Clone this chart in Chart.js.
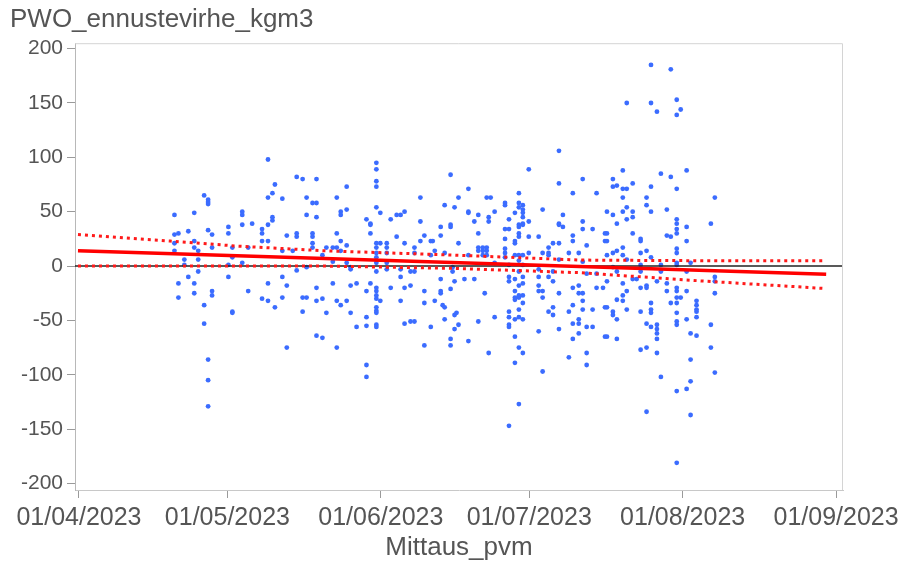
<!DOCTYPE html>
<html>
<head>
<meta charset="utf-8">
<script src="https://cdn.jsdelivr.net/npm/chart.js@4.4.0/dist/chart.umd.min.js"></script>
<style>
html,body{margin:0;padding:0;background:#fff;}
</style>
</head>
<body>
<canvas id="grafico" width="898" height="563"></canvas>
<script>
// x = days since 01/04/2023, y = PWO_ennustevirhe_kgm3
const obsLateApr = [[19.3,47],[19.3,29],[20.1,30],[19.3,21],[19.3,14],[20.1,-16],[20.1,-29],[21.3,6],[21.3,1],[22.1,32],[22.1,-10],[23.3,49],[23.3,23],[23.3,17],[23.3,-16],[23.3,-25],[24.1,14],[24.1,6],[24.1,-5],[25.3,65],[26.1,61],[26.1,59],[26.1,57],[26.1,33],[26.9,29],[26.9,17],[26.9,-23],[26.9,-27],[25.3,-36],[25.3,-53],[26.1,-86],[26.1,-105],[26.1,-129],[30.2,36],[30.2,30],[30.2,1],[30.2,-10],[31.0,17],[31.0,8],[31.0,-42],[31.0,-43],[33.0,50],[33.0,47],[33.0,38],[33.0,3],[34.2,-23],[34.2,17],[35.0,39],[37.0,34],[37.0,30],[37.0,23],[37.0,-30],[38.2,98],[38.2,63],[38.2,38],[38.2,23],[38.2,-16],[38.2,-32],[39.1,67],[39.1,45],[39.1,42],[39.6,75],[39.6,-38]];

const obsMay = [[41.1,62],[42.0,28],[41.1,14],[41.1,-10],[42.0,-18],[41.1,-29],[42.0,-75],[43.2,14],[44.0,82],[45.2,80],[44.0,30],[44.0,27],[44.0,-4],[45.2,-29],[46.0,-29],[45.2,-42],[46.0,63],[46.0,47],[47.2,58],[48.0,58],[48.0,80],[48.0,45],[47.2,30],[47.2,27],[47.2,21],[47.2,17],[46.0,-1],[48.0,-20],[48.0,-32],[49.2,-30],[50.0,-43],[48.0,-64],[49.2,-66],[49.2,10],[50.0,17],[51.3,17],[51.3,4],[51.3,-16],[52.1,63],[52.1,30],[52.1,17],[52.1,-32],[52.1,-75],[52.9,50],[52.9,47],[52.9,23],[52.9,14],[52.9,-36],[54.1,73],[54.1,52],[54.1,19],[54.1,3],[54.1,-32],[54.9,-1],[54.9,-3],[54.9,-18],[54.9,-43],[56.1,-16],[56.1,-56],[58.1,43],[58.1,-23],[58.1,-47],[58.1,-55],[58.1,-91],[58.1,-102],[58.9,39],[58.9,38],[58.9,30],[58.9,-16],[60.1,95],[60.1,89],[60.1,78],[60.1,73],[60.1,54],[60.1,21],[60.1,17],[60.1,12],[60.1,8],[60.1,3],[60.1,-5],[60.1,-20],[60.1,-23],[60.1,-27],[60.1,-30],[60.1,-38],[60.1,-41],[60.1,-43],[60.1,-54],[60.1,-56],[60.9,49],[60.9,21],[60.9,-32]];

const obsJune = [[62.2,21],[62.2,17],[62.2,12],[62.2,3],[62.2,-3],[63.0,43],[63.0,-20],[64.2,47],[65.0,47],[65.8,50],[64.2,27],[65.8,21],[65.0,-3],[65.0,-10],[65.0,-32],[65.8,-20],[65.8,-53],[67.0,-18],[67.0,-51],[67.8,-51],[67.0,-5],[67.8,-5],[67.8,17],[67.8,12],[69.0,63],[69.0,41],[69.0,23],[69.8,28],[69.8,-23],[69.8,-34],[69.8,-73],[71.1,23],[71.5,23],[71.1,-56],[71.1,10],[71.9,14],[71.9,-32],[73.1,36],[73.1,28],[73.1,-12],[73.1,-23],[73.1,-25],[73.5,-36],[73.9,-38],[73.9,56],[73.9,12],[73.9,-49],[75.1,84],[75.1,38],[75.1,36],[75.1,-21],[75.1,-67],[75.1,-73],[75.9,54],[75.9,-14],[75.9,-45],[76.3,-43],[76.7,63],[76.7,21],[76.7,-54],[75.9,-58],[75.5,-1],[75.5,-5],[77.9,-12],[78.7,71],[78.7,50],[78.7,49],[78.7,10],[78.7,-69],[79.9,41],[79.9,-12],[80.7,47],[80.7,30],[80.7,-51],[80.7,17],[80.7,14],[81.6,17],[81.6,14],[81.6,10],[82.4,17],[82.4,14],[82.4,10],[82.0,-25],[82.8,45],[82.8,41],[82.8,-80],[82.4,63],[83.2,63],[84.0,-47],[84.0,50]];

const obsJuly = [[84.0,3],[86.1,58],[86.1,56],[86.1,34],[86.1,25],[86.1,16],[86.1,12],[86.1,8],[86.9,43],[86.9,34],[86.9,1],[86.9,-10],[86.9,-14],[86.9,-42],[86.9,-47],[86.9,-54],[86.9,-56],[86.9,-147],[88.1,49],[88.1,23],[88.1,21],[88.1,10],[88.1,-12],[88.1,-23],[88.1,-29],[88.1,-31],[88.1,-49],[88.1,-65],[88.1,-89],[88.9,67],[88.9,58],[88.9,54],[88.9,38],[88.9,36],[88.9,30],[88.9,27],[88.9,10],[88.9,5],[88.9,-5],[88.9,-18],[88.9,-27],[88.9,-29],[88.9,-40],[88.9,-47],[88.9,-75],[88.9,-127],[89.7,56],[89.7,52],[89.7,49],[89.7,45],[89.7,39],[89.7,38],[89.7,10],[89.7,1],[89.7,-10],[89.7,-16],[89.7,-27],[89.7,-34],[89.7,-49],[89.7,-80],[90.9,89],[90.9,41],[90.9,27],[90.9,12],[92.9,27],[92.9,-3],[92.9,-10],[92.9,-18],[92.9,-23],[92.9,-60],[93.7,52],[93.7,12],[93.7,-23],[93.7,-29],[93.7,-97],[94.9,17],[94.9,12],[94.9,10],[94.9,-10],[94.9,-42],[95.8,21],[95.8,-5],[95.8,-14],[95.8,-38],[95.8,-45],[97.0,106],[97.0,76],[97.0,39],[97.0,38],[97.0,21],[97.0,6],[97.0,-25],[97.0,-58],[97.8,47],[97.8,36],[99.0,12],[99.0,-42],[99.0,-84],[99.8,67],[99.8,28],[99.8,23],[99.8,-20],[99.8,-36],[99.8,-53],[99.8,-67],[101.0,12],[101.0,-18],[101.0,-25],[101.0,-49],[101.0,-53],[101.0,-62],[101.8,80],[101.8,41],[101.8,34],[101.8,4],[101.8,-25],[101.8,-32],[101.8,-40],[102.6,19],[102.6,-7],[102.6,-56],[102.6,-80],[102.6,-91],[103.8,34],[103.8,-40],[103.8,-56],[104.6,67],[104.6,-7],[104.6,-20],[105.9,-20],[106.3,30],[106.3,23],[106.3,-38],[106.3,-65]];

const obsAugust = [[106.7,50],[106.7,30],[106.7,23],[106.7,10],[106.7,-14],[106.7,-38],[106.7,-65],[107.9,80],[107.9,73],[107.9,47],[107.9,12],[107.9,-1],[107.9,-42],[107.9,-45],[108.7,74],[108.7,39],[108.7,14],[108.7,-5],[108.7,-31],[108.7,-49],[108.7,-67],[109.9,88],[109.9,71],[109.9,63],[109.9,50],[109.9,17],[109.9,10],[109.9,-16],[109.9,-27],[109.9,-32],[110.7,150],[110.7,71],[110.7,54],[110.7,43],[110.7,6],[110.7,-23],[110.7,-40],[111.9,76],[111.9,50],[111.9,45],[111.9,30],[111.9,-12],[112.7,-12],[113.5,25],[113.5,23],[113.5,12],[113.5,1],[113.5,-5],[113.5,-20],[113.5,-42],[113.5,-77],[114.7,63],[114.7,56],[114.7,14],[114.7,-18],[114.7,-20],[114.7,-53],[114.7,-75],[114.7,-134],[115.6,185],[115.6,150],[115.6,73],[115.6,50],[115.6,8],[115.6,-34],[115.6,-40],[115.6,-43],[115.6,-56],[116.8,142],[116.8,-14],[116.8,-54],[116.8,-58],[116.8,-62],[116.8,-67],[116.8,-80],[117.6,85],[117.6,1],[117.6,-5],[117.6,-102],[118.8,52],[118.8,28],[118.8,-16],[118.8,-23],[119.6,181],[119.6,82],[119.6,27],[119.6,-34],[120.8,153],[120.8,139],[120.8,71],[120.8,43],[120.8,39],[120.8,34],[120.8,30],[120.8,16],[120.8,12],[120.8,3],[120.8,1],[120.8,-20],[120.8,-23],[120.8,-29],[120.8,-34],[120.8,-43],[120.8,-51],[120.8,-54],[120.8,-115],[120.8,-181],[121.6,144],[121.6,-29],[122.8,88],[122.8,36],[122.8,23],[122.8,-5],[122.8,-23],[122.8,-49],[122.8,-113],[123.6,3],[123.6,-62],[123.6,-86],[123.6,-106],[123.6,-137],[124.8,-32],[124.8,-36],[124.8,-40],[124.8,-42],[124.8,-47],[124.8,-64],[127.7,39],[127.7,-54],[127.7,-75],[128.5,63],[128.5,-10],[128.5,-14],[128.5,-25],[128.5,-98]];

// regression line and its confidence band
const fitDays = [-0.2, 151];
const fitValues = [14.1, -7.6];
const bandDays = [-0.2, 18.4, 31.9, 49.3, 75.6, 101.2, 126.1, 150.3];
const bandUpper = [29, 23, 18.4, 14.1, 10.1, 5.5, 4.9, 4.9];
const bandLower = [0, 0, 0, 0, -2.1, -6.1, -13.8, -20.5];

const tickDays = [0, 30, 61, 91, 122, 153];
const tickLabels = ["01/04/2023", "01/05/2023", "01/06/2023", "01/07/2023", "01/08/2023", "01/09/2023"];
const yTicks = [-200, -150, -100, -50, 0, 50, 100, 150, 200];

const FONT = "'Liberation Sans', Arial, sans-serif";
const TXT = "#555";

const pares = (xs, ys) => xs.map((x, i) => ({x: x, y: ys[i]}));
const obs = [].concat(obsLateApr, obsMay, obsJune, obsJuly, obsAugust).map(p => ({x: p[0], y: p[1]}));

const moldura = {
  id: "moldura",
  afterDraw(chart){
    const a = chart.chartArea, ctx = chart.ctx;
    ctx.save();
    ctx.strokeStyle = "#d4d4d4";
    ctx.lineWidth = 1;
    ctx.beginPath();
    ctx.moveTo(a.left, a.top + 0.5);
    ctx.lineTo(a.right - 0.5, a.top + 0.5);
    ctx.lineTo(a.right - 0.5, a.bottom);
    ctx.stroke();
    ctx.restore();
  }
};

new Chart(document.getElementById("grafico"), {
  type: "scatter",
  data: {
    datasets: [
      {type: "line", data: pares(fitDays, fitValues), borderColor: "#ff0000", borderWidth: 3.5, pointRadius: 0, order: 0},
      {type: "line", data: pares(bandDays, bandUpper), borderColor: "#ff1a1a", borderWidth: 3, borderDash: [3, 4], pointRadius: 0, order: 1},
      {type: "line", data: pares(bandDays, bandLower), borderColor: "#ff1a1a", borderWidth: 3, borderDash: [3, 4], pointRadius: 0, order: 2},
      {type: "line", data: pares([-0.8, 154.4], [0, 0]), borderColor: "#222", borderWidth: 1.5, pointRadius: 0, order: 3},
      {data: obs, backgroundColor: "#3b6cff", borderWidth: 0, pointRadius: 2.4, order: 4}
    ]
  },
  options: {
    responsive: false,
    animation: false,
    devicePixelRatio: 1,
    layout: {padding: {left: 10, right: 0, top: 0, bottom: 0}},
    plugins: {
      legend: {display: false},
      tooltip: {enabled: false},
      title: {
        display: true,
        text: "PWO_ennustevirhe_kgm3",
        align: "start",
        color: TXT,
        font: {family: FONT, size: 26, weight: "normal"},
        padding: {top: 4, bottom: 8}
      }
    },
    scales: {
      x: {
        type: "linear",
        min: -0.8,
        max: 154.4,
        afterBuildTicks(scale){ scale.ticks = tickDays.map(v => ({value: v})); },
        afterFit(scale){ scale.height = 73; scale.paddingLeft = 0; scale.paddingRight = 55; },
        ticks: {
          color: TXT,
          font: {family: FONT, size: 25},
          padding: 5,
          maxRotation: 0,
          autoSkip: false,
          callback: (v) => tickLabels[tickDays.indexOf(v)]
        },
        grid: {drawOnChartArea: false, drawTicks: true, tickLength: 8, tickColor: "#9a9a9a"},
        border: {display: true, color: "#c8c8c8"},
        title: {display: true, text: "Mittaus_pvm", color: TXT, font: {family: FONT, size: 26}, padding: {top: 0, bottom: 0}}
      },
      y: {
        min: -206,
        max: 205,
        afterBuildTicks(scale){ scale.ticks = yTicks.map(v => ({value: v})); },
        afterFit(scale){ scale.width = 65; },
        ticks: {color: TXT, font: {family: FONT, size: 21}, padding: 4},
        grid: {drawOnChartArea: false, drawTicks: true, tickLength: 8, tickColor: "#9a9a9a"},
        border: {display: true, color: "#b8b8b8"}
      }
    }
  },
  plugins: [moldura]
});
</script>
</body>
</html>
